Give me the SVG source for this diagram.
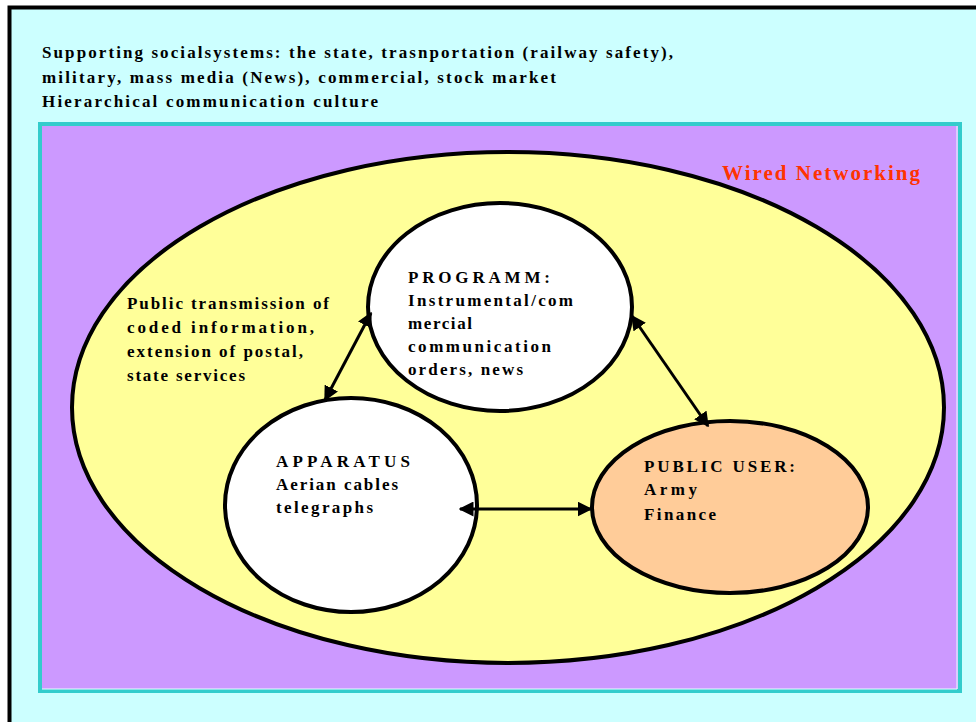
<svg xmlns="http://www.w3.org/2000/svg" width="976" height="722" viewBox="0 0 976 722">
  <defs>
    <marker id="head" viewBox="0 0 10 10" refX="9" refY="5" markerWidth="5" markerHeight="5" orient="auto-start-reverse" markerUnits="strokeWidth">
      <path d="M0,0 L10,5 L0,10 z" fill="#000"/>
    </marker>
  </defs>
  <style>
    .t { font-family: "Liberation Serif", "Times New Roman", serif; font-weight: bold; font-size: 17px; fill: #000; }
    .node { stroke: #000; stroke-width: 4; }
    .link { stroke: #000; stroke-width: 3; fill: none; marker-start: url(#head); marker-end: url(#head); }
  </style>

  <!-- page background -->
  <rect x="0" y="0" width="976" height="722" fill="#fff"/>
  <rect x="9.5" y="7.5" width="980" height="730" fill="#CCFFFF" stroke="#000" stroke-width="4"/>

  <!-- header notes -->
  <g id="header">
    <text class="t" x="42" y="58" textLength="631" lengthAdjust="spacing">Supporting socialsystems: the state, trasnportation (railway safety),</text>
    <text class="t" x="42" y="83" textLength="514" lengthAdjust="spacing">military, mass media (News), commercial, stock market</text>
    <text class="t" x="42" y="107" textLength="336" lengthAdjust="spacing">Hierarchical communication culture</text>
  </g>

  <!-- wired networking panel -->
  <g id="panel">
    <rect x="40" y="124" width="920" height="567" fill="#CC99FF" stroke="#33CCCC" stroke-width="4"/>
    <path d="M42,689 H957 V126" fill="none" stroke="#E8FFFF" stroke-width="1"/>
    <text x="722" y="180" font-family="Liberation Serif, serif" font-weight="bold" font-size="21" fill="#FF3300" textLength="198" lengthAdjust="spacing">Wired Networking</text>
  </g>

  <!-- context ellipse -->
  <g id="context">
    <ellipse cx="508" cy="407.5" rx="436" ry="255.5" fill="#FFFF99" stroke="#000" stroke-width="4"/>
    <text class="t" x="127" y="309" textLength="202" lengthAdjust="spacing">Public transmission of</text>
    <text class="t" x="127" y="333" textLength="187" lengthAdjust="spacing">coded information,</text>
    <text class="t" x="127" y="357" textLength="176" lengthAdjust="spacing">extension of postal,</text>
    <text class="t" x="127" y="381" textLength="118" lengthAdjust="spacing">state services</text>
  </g>

  <g id="programm">
    <ellipse class="node" cx="500" cy="307" rx="132" ry="104" fill="#fff"/>
    <text class="t" x="408" y="283" textLength="142" lengthAdjust="spacing">PROGRAMM:</text>
    <text class="t" x="408" y="306" textLength="165" lengthAdjust="spacing">Instrumental/com</text>
    <text class="t" x="408" y="329" textLength="64" lengthAdjust="spacing">mercial</text>
    <text class="t" x="408" y="352" textLength="143" lengthAdjust="spacing">communication</text>
    <text class="t" x="408" y="375" textLength="115" lengthAdjust="spacing">orders, news</text>
  </g>

  <g id="apparatus">
    <ellipse class="node" cx="351" cy="505" rx="126" ry="107" fill="#fff"/>
    <text class="t" x="276" y="467" textLength="134" lengthAdjust="spacing">APPARATUS</text>
    <text class="t" x="276" y="490" textLength="122" lengthAdjust="spacing">Aerian cables</text>
    <text class="t" x="276" y="513" textLength="97" lengthAdjust="spacing">telegraphs</text>
  </g>

  <g id="public-user">
    <ellipse class="node" cx="730" cy="507" rx="138" ry="86" fill="#FFCC99"/>
    <text class="t" x="644" y="472" textLength="151" lengthAdjust="spacing">PUBLIC USER:</text>
    <text class="t" x="644" y="495" textLength="53" lengthAdjust="spacing">Army</text>
    <text class="t" x="644" y="520" textLength="72" lengthAdjust="spacing">Finance</text>
  </g>

  <!-- connectors -->
  <g id="connectors">
    <line class="link" x1="371" y1="313" x2="325" y2="400"/>
    <line class="link" x1="632" y1="316" x2="708" y2="426"/>
    <line class="link" x1="460" y1="509" x2="591" y2="509"/>
  </g>
</svg>
